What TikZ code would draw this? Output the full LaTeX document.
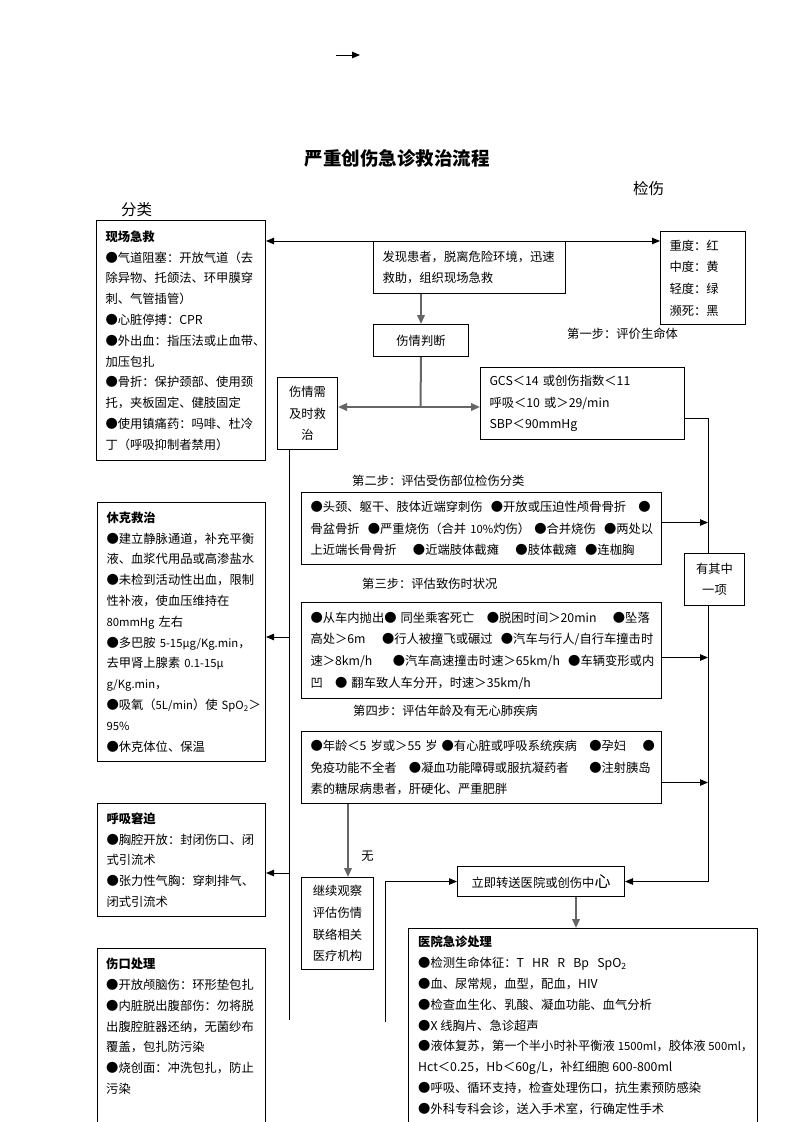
\documentclass[tikz,border=0pt]{standalone}
\usepackage{fontspec}
\setmainfont{Noto Sans CJK SC}
\usetikzlibrary{arrows.meta}
\newcommand\bodyfont{\fontsize{12.3}{20.8}\selectfont}
\newcommand\stepfont{\fontsize{12.3}{21.6}\selectfont}
\newcommand\nar[1]{{\fontsize{11.3}{20.8}\selectfont #1}}

\begin{document}
\begin{tikzpicture}[x=1pt, y=-1pt,
    box/.style={draw, line width=1pt, anchor=north west, inner xsep=9pt, inner ysep=0pt, align=left, font=\bodyfont},
    cbox/.style={draw, line width=1pt, anchor=north west, inner sep=0pt, align=center, font=\stepfont},
    frame/.style={draw, line width=1pt, anchor=north west, inner sep=0pt},
    lbl/.style={anchor=west, inner sep=0pt, font=\bodyfont},
    arr/.style={line width=0.9pt, -{Triangle[length=8pt,width=6.5pt]}},
    biarr/.style={line width=0.9pt, {Triangle[length=8pt,width=6.5pt]}-{Triangle[length=8pt,width=6.5pt]}},
    gline/.style={line width=2pt, black!60},
    garr/.style={gline, -{Triangle[length=9pt,width=7.5pt]}},
    gbiarr/.style={gline, {Triangle[length=9pt,width=7.5pt]}-{Triangle[length=9pt,width=7.5pt]}}]
  \useasboundingbox (0,0) rectangle (793,1122);
  % header
  \coordinate (markA) at (336,55);
  \coordinate (markB) at (360,55);
  \draw[arr] (markA) -- (markB);
  \node[font=\fontsize{18.5}{20}\selectfont\bfseries] (title) at (397,158) {严重创伤急诊救治流程};
  \node[lbl, font=\fontsize{15.5}{18}\selectfont] (jianshang) at (633,189) {检伤};
  \node[lbl, font=\fontsize{15.5}{18}\selectfont] (fenlei) at (121,210) {分类};
  % left column
  \node[box, minimum width=169, minimum height=240, text width=151] (scene) at (96,220) {\textbf{现场急救}\\
    ●气道阻塞：开放气道（去\\
    除异物、托颌法、环甲膜穿\\
    刺、气管插管）\\
    ●心脏停搏：CPR\\
    ●外出血：指压法或止血带、\\
    加压包扎\\
    ●骨折：保护颈部、使用颈\\
    托，夹板固定、健肢固定\\
    ●使用镇痛药：吗啡、杜冷\\
    丁（呼吸抑制者禁用）};
  \node[box, minimum width=168, minimum height=259, text width=150] (shock) at (97,502) {\textbf{休克救治}\\
    ●建立静脉通道，补充平衡\\
    液、血浆代用品或高渗盐水\\
    ●未检到活动性出血，限制\\
    性补液，使血压维持在\\
    \nar{80mmHg}~左右\\
    \mbox{●多巴胺~\nar{5-15μg/Kg.min}，}\\
    \mbox{去甲肾上腺素~\nar{0.1-15μ}}\\
    \nar{g/Kg.min}，\\
    \mbox{●吸氧（\nar{5L/min}）使\nar{~SpO\textsubscript{2}}＞}\\
    \nar{95\%}\\
    ●休克体位、保温};
  \node[box, minimum width=168, minimum height=113, text width=150] (breath) at (97,803) {\textbf{呼吸窘迫}\\
    ●胸腔开放：封闭伤口、闭\\
    式引流术\\
    ●张力性气胸：穿刺排气、\\
    闭式引流术};
  \node[frame, minimum width=168, minimum height=220] (wound) at (97,948) {};
  \node[lbl, anchor=north west, align=left] (woundtext) at (106,958) {\textbf{伤口处理}\\
    ●开放颅脑伤：环形垫包扎\\
    ●内脏脱出腹部伤：勿将脱\\
    出腹腔脏器还纳，无菌纱布\\
    覆盖，包扎防污染\\
    ●烧创面：冲洗包扎，防止\\
    污染};
  % middle and right
  \node[box, minimum width=192, minimum height=52, text width=174] (find) at (373,241) {发现患者，脱离危险环境，迅速\\救助，组织现场急救};
  \node[box, font=\stepfont, minimum width=85, minimum height=93, text width=67] (grade) at (660,231) {重度：红\\中度：黄\\轻度：绿\\濒死：黑};
  \node[cbox, minimum width=95, minimum height=32] (judge) at (373,324) {伤情判断};
  \node[lbl] (step1) at (567,334) {第一步：评价生命体};
  \node[cbox, minimum width=60, minimum height=72] (urgent) at (277,377) {伤情需\\及时救\\治};
  \node[box, font=\stepfont, minimum width=204, minimum height=72, text width=186] (gcs) at (480,367) {GCS＜14~或创伤指数＜11\\
    呼吸＜10~或＞29/min\\
    SBP＜90mmHg};
  \node[cbox, minimum width=60, minimum height=52] (oneof) at (684,553) {有其中\\一项};
  \node[lbl] (step2) at (352,481) {第二步：评估受伤部位检伤分类};
  \node[box, font=\stepfont, minimum width=360, minimum height=72, text width=342] (site) at (301,492) {●头颈、躯干、肢体近端穿刺伤~~●开放或压迫性颅骨骨折~~~●\\
    骨盆骨折~~●严重烧伤（合并~\nar{10\%}灼伤）~●合并烧伤~~●两处以\\
    上近端长骨骨折~~~~●近端肢体截瘫~~~~●肢体截瘫~~●连枷胸};
  \node[lbl] (step3) at (362,584) {第三步：评估致伤时状况};
  \node[box, font=\stepfont, minimum width=360, minimum height=96, text width=342] (cause) at (301,602) {●从车内抛出●~同坐乘客死亡~~~●脱困时间＞20min~~~~●坠落\\
    高处＞6m~~~~●行人被撞飞或碾过~~●汽车与行人/自行车撞击时\\
    速＞8km/h~~~~~●汽车高速撞击时速＞65km/h~~●车辆变形或内\\
    凹~~~●~翻车致人车分开，时速＞35km/h};
  \node[lbl] (step4) at (353,711) {第四步：评估年龄及有无心肺疾病};
  \node[box, font=\stepfont, minimum width=360, minimum height=72, text width=342] (age) at (301,731) {●年龄＜5~岁或＞55~岁~●有心脏或呼吸系统疾病~~~●孕妇~~~~●\\
    免疫功能不全者~~~●凝血功能障碍或服抗凝药者~~~~~●注射胰岛\\
    素的糖尿病患者，肝硬化、严重肥胖};
  \node[cbox, minimum width=72, minimum height=92] (observe) at (301,877) {继续观察\\评估伤情\\联络相关\\医疗机构};
  \node[cbox, minimum width=167, minimum height=30] (transfer) at (457,866) {立即转送医院或创伤中{\fontsize{16}{16}\selectfont 心}};
  \node[frame, minimum width=349, minimum height=220] (hospital) at (408,928) {};
  \node[lbl, anchor=north west, align=left] (hospitaltext) at (418,936) {\textbf{医院急诊处理}\\
    ●检测生命体征：T~~~HR~~~R~~~Bp~~~SpO\textsubscript{2}\\
    ●血、尿常规，血型，配血，HIV\\
    ●检查血生化、乳酸、凝血功能、血气分析\\
    ●X~线胸片、急诊超声\\
    ●液体复苏，第一个半小时补平衡液~\nar{1500ml}，胶体液~\nar{500ml}，\\
    Hct＜0.25，Hb＜60g/L，补红细胞~600-800ml\\
    ●呼吸、循环支持，检查处理伤口，抗生素预防感染\\
    ●外科专科会诊，送入手术室，行确定性手术};
  % connectors
  \coordinate (split) at (420.5,407);
  \coordinate (bus) at (708,0);
  \coordinate (leftbus) at (289,0);
  \coordinate (leftend) at (289,1020);
  \coordinate (toshock) at (289,637);
  \coordinate (tobreath) at (289,873);
  \coordinate (noline) at (348,0);
  \coordinate (downline) at (576,0);
  \coordinate (leftfree) at (385,1022);
  \draw[biarr] (find.north -| scene.east) -- (find.north -| grade.west);
  \draw[garr] (find.south -| judge.north) -- (judge.north);
  \draw[gline] (judge.south) -- (split);
  \draw[gbiarr] (split -| urgent.east) -- (split -| gcs.west);
  \draw[line width=0.9pt] ([yshift=-15pt]gcs.east) -| (bus |- oneof.north);
  \draw[arr] (bus |- oneof.south) |- (transfer.east);
  \draw[arr] ([yshift=6pt]site.east) -- ([yshift=6pt]site.east -| bus);
  \draw[arr] ([yshift=-7pt]cause.east) -- ([yshift=-7pt]cause.east -| bus);
  \draw[arr] ([yshift=-15pt]age.east) -- ([yshift=-15pt]age.east -| bus);
  \draw[garr] (age.south -| noline) -- (observe.north -| noline) node[pos=0.72, right=9pt, font=\bodyfont, text=black] (none) {无};
  \draw[garr] (transfer.south -| downline) -- (hospital.north -| downline);
  \draw[arr] (leftfree) |- (transfer.west);
  \draw[line width=0.9pt] (urgent.south -| leftbus) -- (leftend);
  \draw[arr] (toshock) -- (toshock -| shock.east);
  \draw[arr] (tobreath) -- (tobreath -| breath.east);
\end{tikzpicture}
\end{document}
